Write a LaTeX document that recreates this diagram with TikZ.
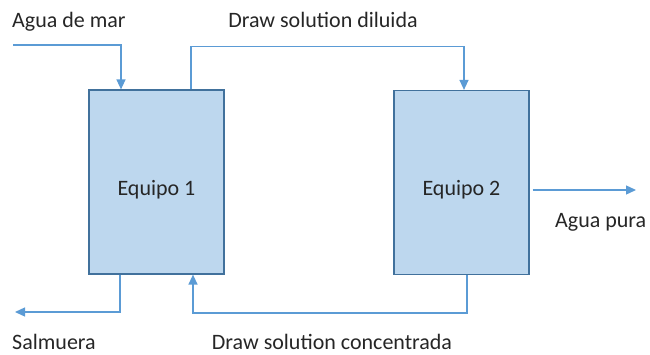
\documentclass[tikz,border=0pt]{standalone}
\usepackage{fontspec}
\setmainfont{Carlito}
\usetikzlibrary{positioning, arrows.meta, calc}
\definecolor{boxfill}{HTML}{BDD7EE}
\definecolor{boxline}{HTML}{41719C}
\definecolor{flow}{HTML}{5B9BD5}

\begin{document}
\begin{tikzpicture}[x=1pt, y=-1pt,
	equipo/.style={draw=boxline, fill=boxfill, line width=1.2pt,
		minimum width=135pt, minimum height=184pt, inner sep=0pt},
	flujo/.style={draw=flow, line width=1.3pt,
		-{Triangle[length=10pt,width=9pt]}},
	etiqueta/.style={font=\fontsize{22}{26}\selectfont, text=black!85,
		inner sep=0pt}]

\useasboundingbox (0,0) rectangle (650,354);

% equipos
\node[equipo] (eq1) at (156.5,182) {};
\node[equipo] (eq2) at (461.5,182.5) {};
\node[etiqueta, anchor=base] (t1) at ([yshift=-13pt]eq1.center) {Equipo 1};
\node[etiqueta, anchor=base] (t2) at ([yshift=-12.5pt]eq2.center) {Equipo 2};

% extremos libres
\coordinate (mar) at (13,45);
\coordinate (salmuera) at (15,312);
\coordinate (pura) at (636,190);

% flujos
\draw[flujo] (mar) -| ([xshift=-35.5pt]eq1.north);
\draw[flujo] ([xshift=34.5pt]eq1.north) -- ++(0,-43) -| ([xshift=2.5pt]eq2.north);
\draw[flujo] ([xshift=-36.5pt]eq1.south) |- (salmuera);
\draw[flujo] ([xshift=5.5pt]eq2.south) -- ++(0,38) -| ([xshift=36.5pt]eq1.south);
\draw[flujo] ([xshift=3pt,yshift=-7.5pt]eq2.east) -- (pura);

% textos
\node[etiqueta, anchor=base west] (tmar) at (12,27) {Agua de mar};
\node[etiqueta, anchor=base] (tdiluida) at (323,27) {Draw solution diluida};
\node[etiqueta, anchor=base west] (tsal) at (12,349) {Salmuera};
\node[etiqueta, anchor=base] (tconc) at (332,349) {Draw solution concentrada};
\node[etiqueta, anchor=base west] (tpura) at (555,227) {Agua pura};
\end{tikzpicture}
\end{document}
